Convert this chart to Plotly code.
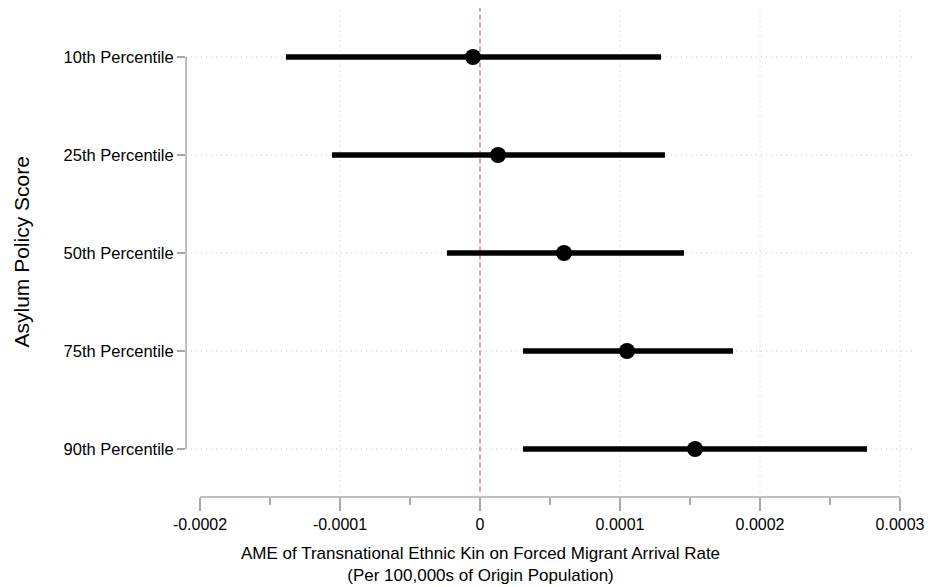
import plotly.graph_objects as go

categories = ["10th Percentile", "25th Percentile", "50th Percentile", "75th Percentile", "90th Percentile"]
estimates = [-0.0000050, 0.0000129, 0.0000600, 0.0001050, 0.0001536]
lower = [-0.0001386, -0.0001057, -0.0000236, 0.0000307, 0.0000307]
upper = [0.0001293, 0.0001321, 0.0001457, 0.0001807, 0.0002764]

x_ticks = [-0.0002, -0.0001, 0.0, 0.0001, 0.0002, 0.0003]
x_ticklabels = ["-0.0002", "-0.0001", "0", "0.0001", "0.0002", "0.0003"]
x_minor = [-0.00015, -0.00005, 0.00005, 0.00015, 0.00025]

FONT = "Liberation Sans, Arial, sans-serif"
positions = list(range(1, len(categories) + 1))

fig = go.Figure()

# confidence interval lines
for pos, lo, hi in zip(positions, lower, upper):
    fig.add_trace(go.Scatter(x=[lo, hi], y=[pos, pos], mode="lines",
                             line=dict(color="black", width=5.5),
                             showlegend=False, hoverinfo="skip"))

fig.add_trace(go.Scatter(x=estimates, y=positions, mode="markers",
                         marker=dict(color="black", size=16),
                         showlegend=False))

GRID = dict(color="#c4c4c4", width=1, dash="1px,4px")
shapes = []
# vertical dotted grid lines (not at axis minimum)
for t in x_ticks[1:]:
    shapes.append(dict(type="line", xref="x", yref="paper", x0=t, x1=t, y0=0.011, y1=1,
                       line=GRID, layer="below"))
# horizontal dotted grid lines
for pos in positions:
    shapes.append(dict(type="line", xref="paper", yref="y", x0=0, x1=1, y0=pos, y1=pos,
                       line=GRID, layer="below"))
# zero reference line
shapes.append(dict(type="line", xref="x", yref="paper", x0=0, x1=0, y0=0.011, y1=1,
                   line=dict(color="#cf86b3", width=1.6, dash="5px,3px"), layer="below"))
# x axis line from min to max tick
shapes.append(dict(type="line", xref="x", yref="paper", x0=x_ticks[0], x1=x_ticks[-1], y0=0, y1=0,
                   line=dict(color="#a8a8a8", width=1.5)))
# y axis line spanning categories
shapes.append(dict(type="line", xref="paper", yref="y", x0=0, x1=0, y0=positions[0], y1=positions[-1],
                   line=dict(color="#a8a8a8", width=1.5)))

fig.update_layout(
    width=928, height=587,
    margin=dict(l=186, r=13, t=8, b=90),
    plot_bgcolor="white", paper_bgcolor="white",
    font=dict(family=FONT, color="black", size=15),
    shapes=shapes,
    xaxis=dict(range=[-0.00021, 0.0003107], tickvals=x_ticks, ticktext=x_ticklabels,
               automargin=False, ticklabeloverflow="allow",
               showgrid=False, zeroline=False, showline=False,
               ticks="outside", ticklen=13, tickwidth=1.5, tickcolor="#a8a8a8",
               tickfont=dict(size=16, family=FONT),
               minor=dict(tickvals=x_minor, ticks="outside", ticklen=7, tickwidth=1.5,
                          tickcolor="#a8a8a8", showgrid=False)),
    yaxis=dict(range=[5.49, 0.5], tickvals=positions, ticktext=categories,
               automargin=False,
               showgrid=False, zeroline=False, showline=False,
               ticks="outside", ticklen=8, tickwidth=1.5, tickcolor="#a8a8a8",
               tickfont=dict(size=16.5, family=FONT)),
    annotations=[
        dict(text="AME of Transnational Ethnic Kin on Forced Migrant Arrival Rate<br>(Per 100,000s of Origin Population)",
             xref="x", yref="paper", x=0, y=0, yshift=-45,
             xanchor="center", yanchor="top", showarrow=False,
             font=dict(size=17, family=FONT)),
        dict(text="Asylum Policy Score", xref="paper", yref="paper",
             x=0, y=0.5, xshift=-165, xanchor="center", yanchor="middle",
             textangle=-90, showarrow=False, font=dict(size=21, family=FONT)),
    ],
)

fig.write_html("out.html")
